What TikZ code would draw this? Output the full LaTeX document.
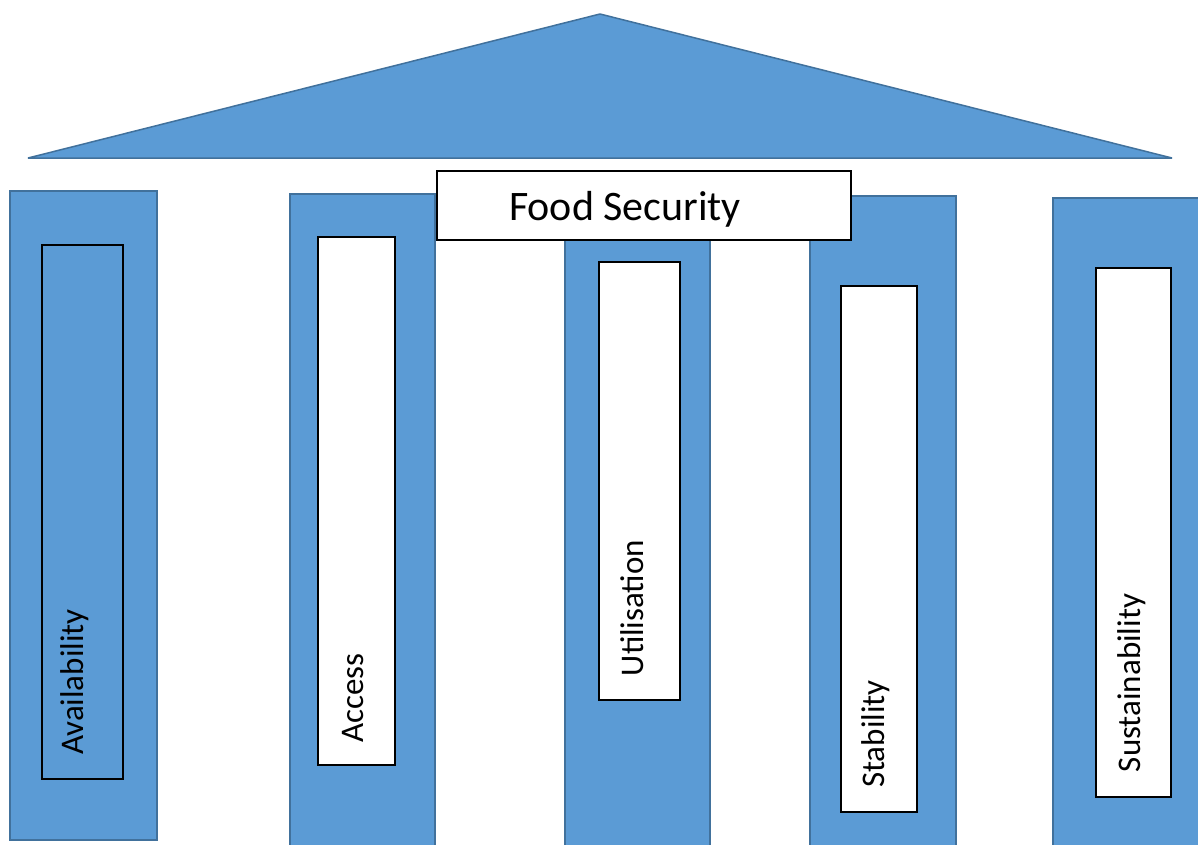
\documentclass[tikz,border=0pt]{standalone}
\usepackage{fontspec}
\setmainfont{Carlito}
\usepackage{tikz}
\usetikzlibrary{positioning}
\definecolor{pillarBlue}{HTML}{5B9BD5}
\definecolor{pillarEdge}{HTML}{41719C}
\tikzset{
  roof/.style    = {fill=pillarBlue, draw=pillarEdge, line width=1.5pt, line join=bevel},
  pillar/.style  = {fill=pillarBlue, draw=pillarEdge, line width=2.5pt},
  slot/.style    = {fill=white, draw=black, line width=1.6pt},
  slotblue/.style= {fill=pillarBlue, draw=black, line width=1.6pt},
  dim/.style     = {rotate=90, font=\fontsize{33}{38}\selectfont, inner sep=0pt},
  titlebox/.style= {draw=black, fill=white, line width=1.6pt, minimum width=414pt,
                    minimum height=69pt, inner sep=0pt},
  title/.style   = {font=\fontsize{42}{48}\selectfont, inner sep=0pt}
}

\begin{document}
\begin{tikzpicture}[x=1pt, y=-1pt]
  \useasboundingbox (0,0) rectangle (1198,844);
  % roof
  \draw[roof] (28,158) -- (600,14) -- (1172,158) -- cycle;
  % pillars
  \draw[pillar] (10,191) rectangle (157,840);
  \draw[pillar] (290,194) rectangle (435,846);
  \draw[pillar] (565,205) rectangle (710,846);
  \draw[pillar] (810,196) rectangle (956,846);
  \draw[pillar] (1053,198) rectangle (1200,846);
  % slots inside the pillars
  \draw[slotblue] (42,245) rectangle (123,779);
  \draw[slot] (318,237) rectangle (395,765);
  \draw[slot] (599,262) rectangle (680,700);
  \draw[slot] (841,286) rectangle (917,812);
  \draw[slot] (1096,268) rectangle (1171,797);
  % dimension names
  \node[dim] (avail) at (75,682) {Availability};
  \node[dim] (access) at (353,698) {Access};
  \node[dim] (util) at (632,608) {Utilisation};
  \node[dim] (stab) at (876,734) {Stability};
  \node[dim] (sust) at (1132,683) {Sustainability};
  % title across the pillar tops
  \node[titlebox] (fs) at (644,205.5) {};
  \node[title] (fstext) at ([xshift=-19pt, yshift=-4pt]fs.center) {Food Security};
\end{tikzpicture}
\end{document}
